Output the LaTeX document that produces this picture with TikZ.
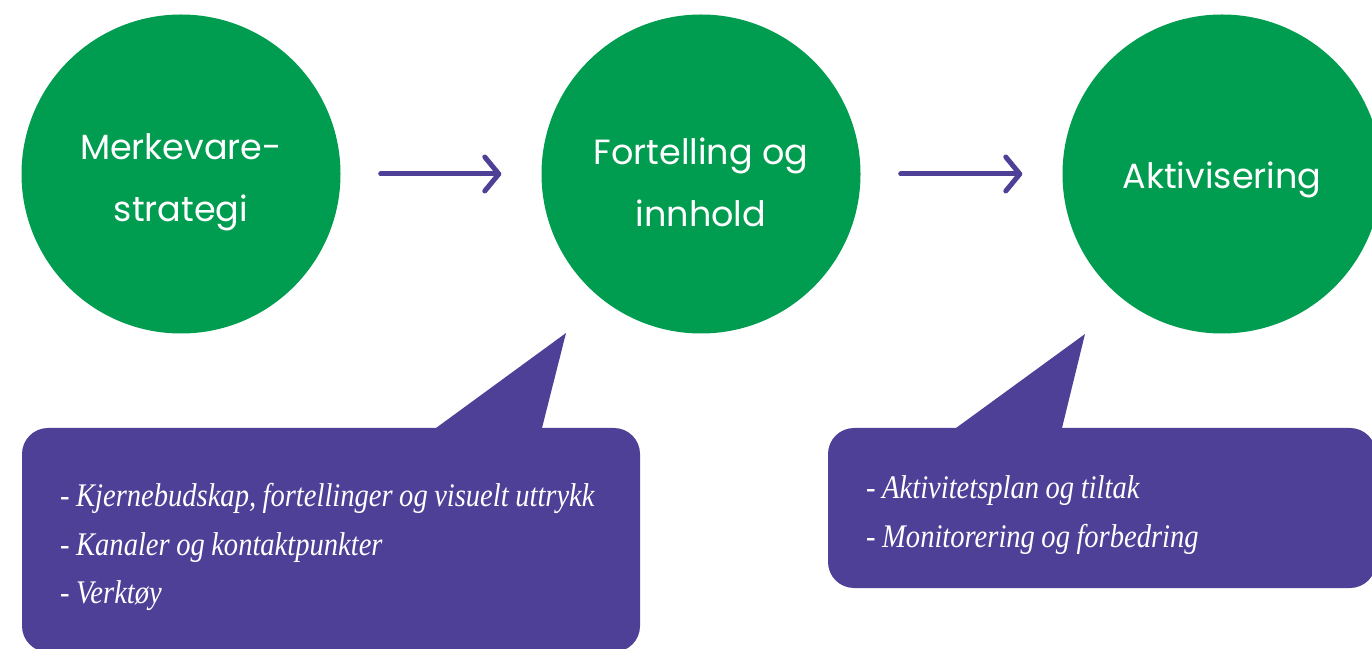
\documentclass[tikz,border=0pt]{standalone}
\usepackage{fontspec}
\usetikzlibrary{arrows.meta}
\newfontfamily\sirkelfont{Poppins}
\newfontfamily\boblefont[FakeStretch=0.865]{Liberation Serif}
\newcommand\tettord{\spaceskip=6.5pt plus 2pt minus 1pt\relax}
\definecolor{grnn}{HTML}{009C50}
\definecolor{lilla}{HTML}{4E3F97}
\tikzset{
  sirkel/.style={circle, fill=grnn, minimum size=319pt, inner sep=0pt},
  sirkeltekst/.style={text=white, align=center, inner sep=0pt,
    font=\sirkelfont\fontsize{35}{62}\selectfont},
  flyt/.style={draw=lilla, line width=5pt, line cap=round,
    -{Straight Barb[length=14pt, width=34pt, round]},
    shorten <=40pt, shorten >=40pt},
  boble/.style={fill=lilla, rounded corners=26pt},
  bobletekst/.style={text=white, anchor=west, align=left, inner sep=0pt,
    font=\boblefont\itshape\fontsize{33}{48.5}\selectfont\tettord},
}
\begin{document}
\begin{tikzpicture}[x=1pt, y=1pt]
    \useasboundingbox (0,0) rectangle (1372,648);

    % De tre trinnene
    \node[sirkel] (strategi) at (181,474) {};
    \node[sirkel] (innhold) at (701,474) {};
    \node[sirkel] (aktiv) at (1222,474) {};
    \node[sirkeltekst] at ([yshift=-8pt]strategi.center) {Merkevare-\\strategi};
    \node[sirkeltekst] at ([yshift=-8pt]innhold.center) {Fortelling og\\innhold};
    \node[sirkeltekst] at ([yshift=-6pt]aktiv.center) {Aktivisering};

    % Piler mellom trinnene
    \draw[flyt] (strategi) -- (innhold);
    \draw[flyt] (innhold) -- (aktiv);

    % Snakkeboble under "Fortelling og innhold"
    \fill[boble] (22,-4) rectangle (640,220);
    \fill[lilla] (436,220) -- (566,315) -- (542,220) -- cycle;
    \node[bobletekst] (punkter1) at (60,101)
        {- Kjernebudskap, fortellinger og visuelt uttrykk\\
         - Kanaler og kontaktpunkter\\
         - Verktøy};

    % Snakkeboble under "Aktivisering"
    \fill[boble] (828,60) rectangle (1376,220);
    \fill[lilla] (956,220) -- (1085,314) -- (1062,220) -- cycle;
    \node[bobletekst] (punkter2) at (866,133)
        {- Aktivitetsplan og tiltak\\
         - Monitorering og forbedring};

\end{tikzpicture}
\end{document}
